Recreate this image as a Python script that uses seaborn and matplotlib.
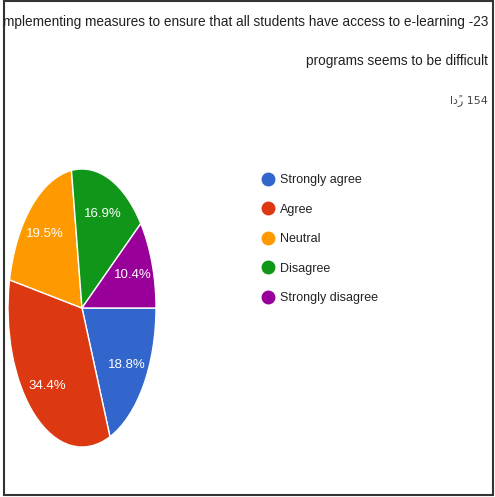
import matplotlib
matplotlib.use("Agg")
import matplotlib.pyplot as plt
import seaborn as sns
from matplotlib.lines import Line2D
from matplotlib.patches import Rectangle

# datos del gráfico (154 respuestas)
categorias = ["Strongly agree", "Agree", "Neutral", "Disagree", "Strongly disagree"]
respuestas = [29, 53, 30, 26, 16]
colores = ["#3366cc", "#dc3912", "#ff9900", "#109618", "#990099"]
titulo_1 = "mplementing measures to ensure that all students have access to e-learning -23"
titulo_2 = "programs seems to be difficult"
total_txt = "\u0627\u062f\u064b\u0631 154"

sns.set_theme(style="white")
plt.rcParams["font.family"] = ["Liberation Sans", "DejaVu Sans"]

fig = plt.figure(figsize=(4.95, 4.97), dpi=100)
W, H = 495, 497

# pie estirado verticalmente, como en la captura
ax = fig.add_axes([8 / W, (H - 447) / H, 148 / W, 278 / H])
paleta = sns.color_palette(colores)
wedges, textos, pcts = ax.pie(respuestas, colors=paleta, startangle=0, counterclock=False,
                              autopct="%1.1f%%", pctdistance=0.73,
                              wedgeprops={"edgecolor": "white", "linewidth": 1})
for t in pcts:
    t.set_color("white")
    t.set_fontsize(9.5)
ax.set_aspect("auto")
ax.set_xlim(-1, 1)
ax.set_ylim(-1, 1)
ax.axis("off")

# leyenda
handles = [Line2D([0], [0], marker="o", linestyle="", markersize=9,
                  markerfacecolor=c, markeredgecolor=c) for c in colores]
fig.legend(handles, categorias, loc="upper left", bbox_to_anchor=(250 / W, 1 - 163 / H),
           frameon=False, fontsize=9, labelspacing=1.4, handletextpad=0.5,
           handlelength=1.0, labelcolor="#222222")

# títulos alineados a la derecha
fig.text(488 / W, 1 - 22 / H, titulo_1, ha="right", va="center", fontsize=9.8, color="#202124")
fig.text(488 / W, 1 - 61 / H, titulo_2, ha="right", va="center", fontsize=9.8, color="#202124")
fig.text(488 / W, 1 - 101 / H, total_txt, ha="right", va="center", fontsize=8, color="#444444",
         family=["DejaVu Sans"])

# marco de la captura
fig.patches.append(Rectangle((4 / W, 2 / H), 489 / W, 494 / H, transform=fig.transFigure,
                             fill=False, edgecolor="#333333", linewidth=1.5))

plt.savefig("out.png", dpi=100)
plt.close()
